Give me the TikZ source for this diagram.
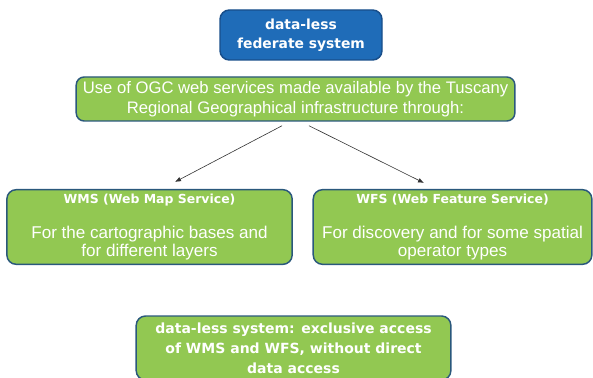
\documentclass[tikz,border=0pt]{standalone}
\usepackage{fontspec}
\setmainfont{Liberation Sans}
\newfontfamily\vfont{DejaVu Sans}
\usetikzlibrary{calc,arrows.meta}
\definecolor{fedblue}{RGB}{31,108,184}
\definecolor{fededge}{RGB}{24,78,138}
\definecolor{boxgreen}{RGB}{146,200,82}
\definecolor{boxedge}{RGB}{42,88,124}
\tikzstyle{fedbox}=[draw=fededge,fill=fedblue,line width=1.1pt,rounded corners=7pt,
  minimum width=121.5pt,minimum height=37.5pt,inner sep=1pt,text=white,align=center,
  font=\vfont\bfseries\fontsize{10.4}{14.25}\selectfont]
\tikzstyle{ogcbox}=[draw=boxedge,fill=boxgreen,line width=1.1pt,rounded corners=6pt,
  minimum width=329pt,minimum height=33pt,inner sep=1pt,text=white,align=center,
  font=\fontsize{12.5}{15}\selectfont]
\tikzstyle{svcbox}=[draw=boxedge,fill=boxgreen,line width=1.1pt,rounded corners=7pt,
  minimum height=56pt,inner sep=1pt,text=white,align=center,
  font=\fontsize{12.8}{13.5}\selectfont]
\tikzstyle{lessbox}=[draw=boxedge,fill=boxgreen,line width=1.1pt,rounded corners=7pt,
  minimum width=236pt,minimum height=48pt,inner sep=1pt,text=white,align=center,
  font=\vfont\bfseries\fontsize{10.5}{15}\selectfont]
\tikzstyle{link}=[draw=black!80,line width=0.45pt,-{Latex[length=4.5pt,width=3.5pt]}]
\newcommand{\svctitle}[1]{{\vfont\bfseries\fontsize{9.35}{11}\selectfont #1}}

\begin{document}
\begin{tikzpicture}[x=0.75pt,y=-0.75pt,node distance=48pt]
  \useasboundingbox (0,0) rectangle (593,378);
  \node[fedbox] (11) at (301,35) {data-less\\federate system};
  \node[ogcbox,below of=11,xshift=-4.1pt] (21)
    {Use of OGC web services made available by the Tuscany\\
     Regional Geographical infrastructure through:};
  \node[below of=21,node distance=96pt] (tmp) {};
  \node[svcbox,left of=tmp,node distance=109.5pt,minimum width=214pt] (31)
    {\svctitle{WMS (Web Map Service)}\\[13.2pt]
     For the cartographic bases and\\for different layers};
  \node[svcbox,right of=tmp,node distance=117.75pt,minimum width=209pt] (32)
    {\svctitle{WFS (Web Feature Service)}\\[13.2pt]
     For discovery and for some spatial\\operator types};
  \node[lessbox,below of=tmp,node distance=90.75pt,xshift=-1.5pt] (41)
    {data-less system: exclusive access\\of WMS and WFS, without direct\\data access};
  \path ([xshift=-10.1pt,yshift=-3pt]21.south) edge[link] ([xshift=19.1pt,yshift=5.25pt]31.north)
        ([xshift=10.1pt,yshift=-3pt]21.south) edge[link] ([xshift=-21.4pt,yshift=4.5pt]32.north);
\end{tikzpicture}
\end{document}
